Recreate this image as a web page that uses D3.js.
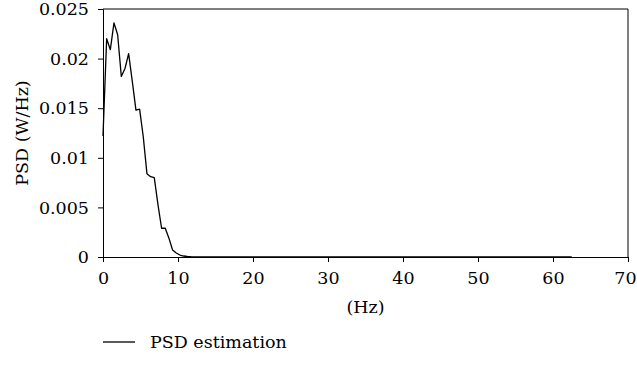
<!DOCTYPE html>
<html>
<head>
<meta charset="utf-8">
<script src="https://cdn.jsdelivr.net/npm/d3@7"></script>
<style>
  body { margin: 0; background: #fff; }
  svg text { font-family: "DejaVu Serif", serif; fill: #000; }
</style>
</head>
<body>
<script>
(function(){    // wrapper

// Data: frequency (Hz) and PSD (W/Hz)
var freqHz = [0, 0.488, 0.977, 1.465, 1.953, 2.441, 2.93, 3.418, 3.906, 4.395,
              4.883, 5.371, 5.859, 6.348, 6.836, 7.324, 7.813, 8.301, 8.789, 9.277,
              9.766, 10.254, 10.742, 11.23, 11.719, 12.207, 12.695, 62.5];
var psdValues = [0.0122, 0.0220, 0.0209, 0.0236, 0.0224, 0.0182, 0.0190, 0.0205, 0.0177, 0.0148,
                 0.0149, 0.0121, 0.0084, 0.0081, 0.0080, 0.0053, 0.0029, 0.0029, 0.0019, 0.0007,
                 0.0004, 0.0002, 0.0001, 0.00005, 0.00003, 0.00002, 0, 0];
var xTicks = [0, 10, 20, 30, 40, 50, 60, 70];
var yTicks = [0, 0.005, 0.01, 0.015, 0.02, 0.025];
var yTickLabels = ["0", "0.005", "0.01", "0.015", "0.02", "0.025"];

var fontSize = "17.5px";

window.onload = drawChart;

function drawChart(){
    var width = 637,
        height = 368,
        margin = {top: 9, right: 9, bottom: 111, left: 103};

    var svg = d3.select("body")
        .append("svg")
        .attr("width", width)
        .attr("height", height);

    var x = d3.scaleLinear()
        .domain([0, 70])
        .range([margin.left, width - margin.right]);

    var y = d3.scaleLinear()
        .domain([0, 0.025])
        .range([height - margin.bottom, margin.top]);

    // Top and right frame
    svg.append("path")
        .attr("d", "M" + x(0) + "," + y(0.025) + "H" + x(70) + "V" + y(0))
        .style("fill", "none")
        .style("stroke", "#000")
        .style("stroke-width", "1px");

    // X axis
    var xAxis = svg.append("g")
        .attr("transform", "translate(0," + y(0) + ")")
        .call(d3.axisBottom(x).tickValues(xTicks).tickSize(5).tickPadding(9.5).tickFormat(d3.format("d")));

    // Y axis
    var yAxis = svg.append("g")
        .attr("transform", "translate(" + x(0) + ",0)")
        .call(d3.axisLeft(y).tickValues(yTicks).tickSize(5).tickPadding(9)
            .tickFormat(function(d, i){ return yTickLabels[i]; }));

    [xAxis, yAxis].forEach(function(a){
        a.attr("font-family", null).attr("font-size", null);
        a.selectAll("path.domain").style("stroke", "#000").style("stroke-width", "1px");
        a.selectAll(".tick line").style("stroke", "#000");
        a.selectAll("text")
            .style("font-size", fontSize)
            .style("fill", "#000");
    });

    // keep the last x label inside the page edge
    xAxis.selectAll(".tick text")
        .filter(function(d){ return d === 70; })
        .attr("dx", -3);

    // Axis titles
    svg.append("text")
        .attr("x", (x(0) + x(70)) / 2)
        .attr("y", 313)
        .attr("text-anchor", "middle")
        .style("font-size", fontSize)
        .text("(Hz)");

    svg.append("text")
        .attr("transform", "translate(28," + (y(0) + y(0.025)) / 2 + ") rotate(-90)")
        .attr("text-anchor", "middle")
        .style("font-size", fontSize)
        .text("PSD (W/Hz)");

    // PSD curve
    var points = freqHz.map(function(f, i){ return [f, psdValues[i]]; });
    var line = d3.line()
        .x(function(d){ return x(d[0]); })
        .y(function(d){ return y(d[1]); });

    svg.append("path")
        .datum(points)
        .attr("d", line)
        .style("fill", "none")
        .style("stroke", "#000")
        .style("stroke-width", "1.3px")
        .style("stroke-linejoin", "round");

    // Legend
    svg.append("line")
        .attr("x1", 103)
        .attr("x2", 135)
        .attr("y1", 342)
        .attr("y2", 342)
        .style("stroke", "#000")
        .style("stroke-width", "1.3px");

    svg.append("text")
        .attr("x", 150)
        .attr("y", 348)
        .style("font-size", fontSize)
        .text("PSD estimation");
}

})();
</script>
</body>
</html>
